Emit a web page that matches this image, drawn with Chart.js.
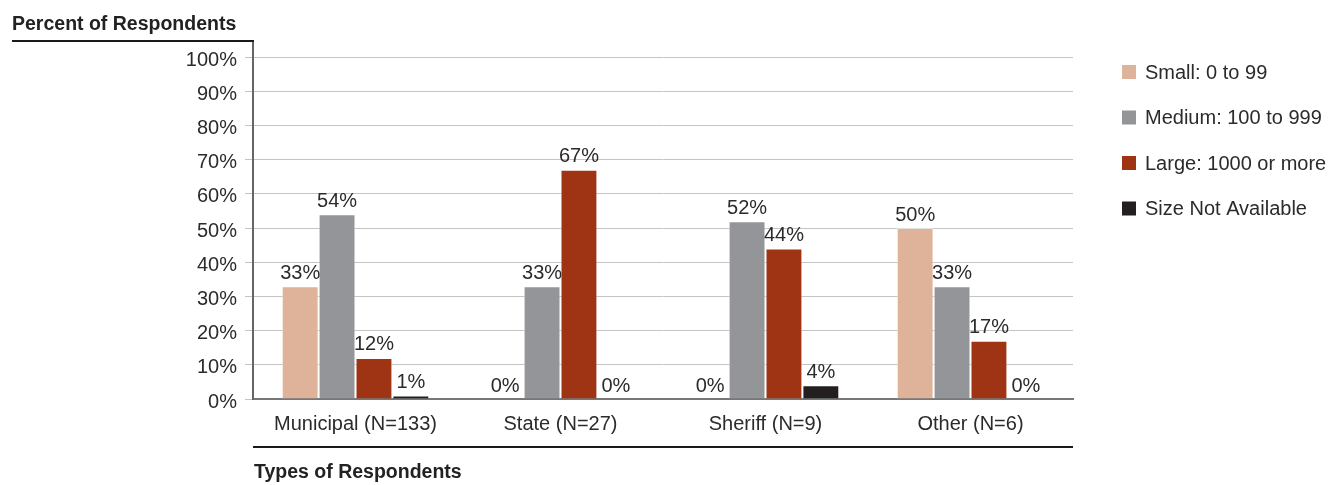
<!DOCTYPE html>
<html><head><meta charset="utf-8">
<script src="https://cdn.jsdelivr.net/npm/chart.js@4.4.1/dist/chart.umd.min.js"></script>
<style>html,body{margin:0;padding:0;background:#fff}#wrap{width:1341px;height:485px;position:relative}</style>
</head><body><div id="wrap"><canvas id="c" width="1341" height="485"></canvas></div>
<script>
const categories = ["Municipal (N=133)", "State (N=27)", "Sheriff (N=9)", "Other (N=6)"];
const seriesNames = ["Small: 0 to 99", "Medium: 100 to 999", "Large: 1000 or more", "Size Not Available"];
const small = [33, 0, 0, 50];
const medium = [54, 33, 52, 33];
const large = [12, 67, 44, 17];
const notAvailable = [1, 0, 4, 0];
const seriesColors = ["#deb39a", "#939598", "#9e3414", "#231f20"];
const yTitle = "Percent of Respondents";
const xTitle = "Types of Respondents";

const FONT = "'Liberation Sans', Arial, sans-serif";
const TXT = "#2b2b2b";

const decor = {
  id: 'decor',
  afterDraw(chart) {
    const ctx = chart.ctx, ca = chart.chartArea;
    ctx.save();
    // data labels
    ctx.font = "20px " + FONT;
    ctx.fillStyle = TXT;
    ctx.textAlign = 'center';
    ctx.textBaseline = 'bottom';
    chart.data.datasets.forEach((ds, i) => {
      chart.getDatasetMeta(i).data.forEach((bar, j) => {
        ctx.fillText(ds.data[j] + '%', bar.x, bar.y - 3);
      });
    });
    // y-axis line extension and top rule
    ctx.strokeStyle = '#666';
    ctx.lineWidth = 2;
    ctx.beginPath(); ctx.moveTo(ca.left, 40); ctx.lineTo(ca.left, ca.bottom); ctx.stroke();
    ctx.strokeStyle = '#1a1a1a';
    ctx.beginPath(); ctx.moveTo(12, 41); ctx.lineTo(ca.left + 1, 41); ctx.stroke();
    ctx.beginPath(); ctx.moveTo(ca.left, 447); ctx.lineTo(ca.right, 447); ctx.stroke();
    // titles
    ctx.font = "bold 19.5px " + FONT;
    ctx.fillStyle = '#222';
    ctx.textAlign = 'left';
    ctx.textBaseline = 'alphabetic';
    ctx.fillText(yTitle, 12, 30);
    ctx.fillText(xTitle, 254, 478);
    // legend
    ctx.font = "20px " + FONT;
    ctx.textBaseline = 'middle';
    chart.data.datasets.forEach((ds, i) => {
      const cy = 72 + i * 45.5;
      ctx.fillStyle = ds.backgroundColor;
      ctx.fillRect(1122, cy - 7, 14, 14);
      ctx.fillStyle = TXT;
      ctx.fillText(ds.label, 1145, cy + 1);
    });
    ctx.restore();
  }
};

const seriesData = [small, medium, large, notAvailable];
new Chart(document.getElementById('c'), {
  type: 'bar',
  data: {
    labels: categories,
    datasets: seriesNames.map((n, i) => ({
      label: n,
      data: seriesData[i],
      backgroundColor: seriesColors[i],
      borderColor: 'rgba(255,255,255,0.5)',
      borderWidth: 1,
      categoryPercentage: 0.72,
      barPercentage: 1.0
    }))
  },
  options: {
    responsive: false,
    animation: false,
    devicePixelRatio: 1,
    layout: { padding: { left: 0, top: 57, right: 268, bottom: 0 } },
    plugins: { legend: { display: false }, tooltip: { enabled: false } },
    scales: {
      x: {
        grid: { display: false },
        border: { display: true, color: '#777', width: 2 },
        ticks: { font: { family: FONT, size: 20 }, color: TXT, padding: 5, maxRotation: 0 },
        afterFit(s) { s.height = 86; }
      },
      y: {
        min: 0, max: 100,
        ticks: { stepSize: 10, callback: v => v + '%', font: { family: FONT, size: 20 }, color: TXT, padding: 8, labelOffset: 3 },
        grid: { color: '#c4c4c4', lineWidth: 1, tickLength: 8 },
        border: { display: true, color: '#666', width: 2 },
        afterFit(s) { s.width = 253; }
      }
    }
  },
  plugins: [decor]
});
</script></body></html>
